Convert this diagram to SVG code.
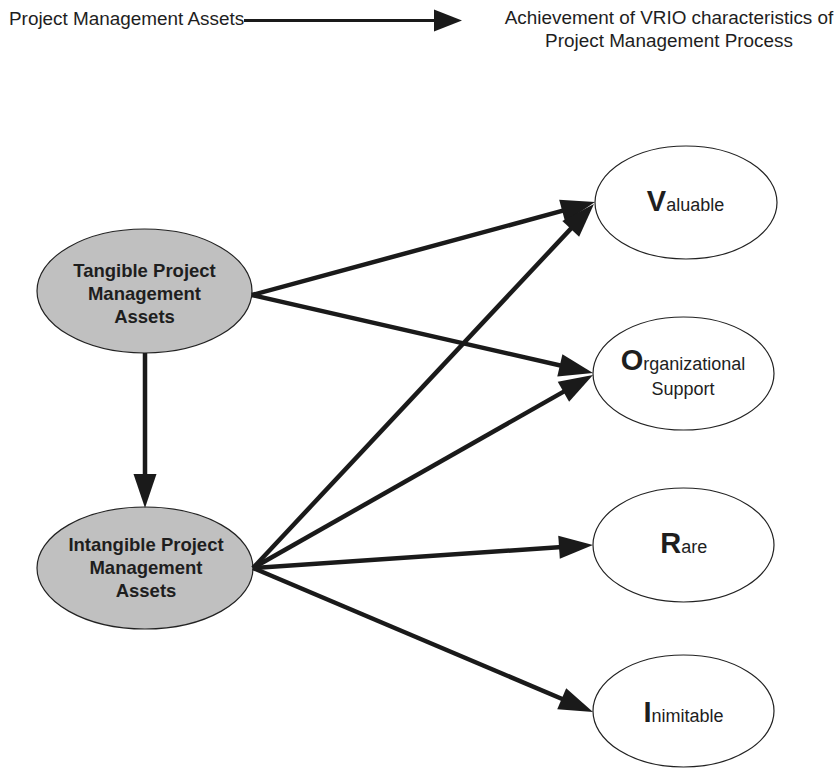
<svg xmlns="http://www.w3.org/2000/svg" width="837" height="768" viewBox="0 0 837 768">
<style>
text{font-family:"Liberation Sans",Arial,sans-serif;fill:#1e1e1e}
.hdr{font-size:18.9px}
.lbl{font-size:18.5px;font-weight:bold;text-anchor:middle}
.big{font-size:29px;font-weight:bold}
.sm{font-size:18px}
.vr{text-anchor:middle}
.src{fill:#c0c0c0;stroke:#222;stroke-width:1.2}
.dst{fill:#fff;stroke:#222;stroke-width:1.2}
.con{stroke:#1a1a1a;stroke-width:4.5;fill:none;marker-end:url(#ah)}
</style>
<defs>
<marker id="ah" markerUnits="userSpaceOnUse" markerWidth="36" markerHeight="25" refX="14" refY="11.5" orient="auto" overflow="visible">
<path d="M0,0 L34,11.5 L0,23 z" fill="#1a1a1a"/>
</marker>
<marker id="ahs" markerUnits="userSpaceOnUse" markerWidth="30" markerHeight="24" refX="13" refY="11" orient="auto" overflow="visible">
<path d="M0,0 L28,11 L0,22 z" fill="#1a1a1a"/>
</marker>
</defs>
<rect width="837" height="768" fill="#fff"/>

<g id="header">
<text class="hdr" x="9" y="25">Project Management Assets</text>
<line x1="244" y1="20.5" x2="447" y2="20.5" stroke="#1a1a1a" stroke-width="3" marker-end="url(#ahs)"/>
<text class="hdr vr" x="669" y="24">Achievement of VRIO characteristics of</text>
<text class="hdr vr" x="669" y="47">Project Management Process</text>
</g>

<g id="tangible">
<ellipse class="src" cx="144.5" cy="291" rx="107.5" ry="62"/>
<text class="lbl" x="144.5" y="277">Tangible Project</text>
<text class="lbl" x="144.5" y="300">Management</text>
<text class="lbl" x="144.5" y="323">Assets</text>
</g>

<g id="intangible">
<ellipse class="src" cx="145" cy="568" rx="108" ry="61"/>
<text class="lbl" x="146" y="551">Intangible Project</text>
<text class="lbl" x="146" y="574">Management</text>
<text class="lbl" x="146" y="597">Assets</text>
</g>

<g id="valuable">
<ellipse class="dst" cx="686" cy="202.5" rx="91" ry="56.5"/>
<text class="vr" x="685.5" y="211"><tspan class="big">V</tspan><tspan class="sm">aluable</tspan></text>
</g>

<g id="organizational">
<ellipse class="dst" cx="683.5" cy="373.5" rx="90.5" ry="56.5"/>
<text class="vr" x="683" y="370"><tspan class="big">O</tspan><tspan class="sm">rganizational</tspan></text>
<text class="sm vr" x="683" y="395">Support</text>
</g>

<g id="rare">
<ellipse class="dst" cx="683.5" cy="545" rx="90.5" ry="57"/>
<text class="vr" x="683.7" y="552.7"><tspan class="big">R</tspan><tspan class="sm">are</tspan></text>
</g>

<g id="inimitable">
<ellipse class="dst" cx="683.5" cy="711" rx="90.5" ry="56"/>
<text class="vr" x="683.5" y="721.7"><tspan class="big">I</tspan><tspan class="sm">nimitable</tspan></text>
</g>

<g id="connectors">
<line class="con" x1="252" y1="295" x2="575.7" y2="207.2"/>
<line class="con" x1="252" y1="295" x2="573.5" y2="368.5"/>
<line class="con" x1="253" y1="568" x2="580.3" y2="218.6"/>
<line class="con" x1="253" y1="568" x2="575.6" y2="384.9"/>
<line class="con" x1="253" y1="568" x2="573.0" y2="546.35"/>
<line class="con" x1="253" y1="568" x2="574.6" y2="704.2"/>
<line class="con" x1="145" y1="353" x2="145" y2="488"/>
</g>
</svg>
